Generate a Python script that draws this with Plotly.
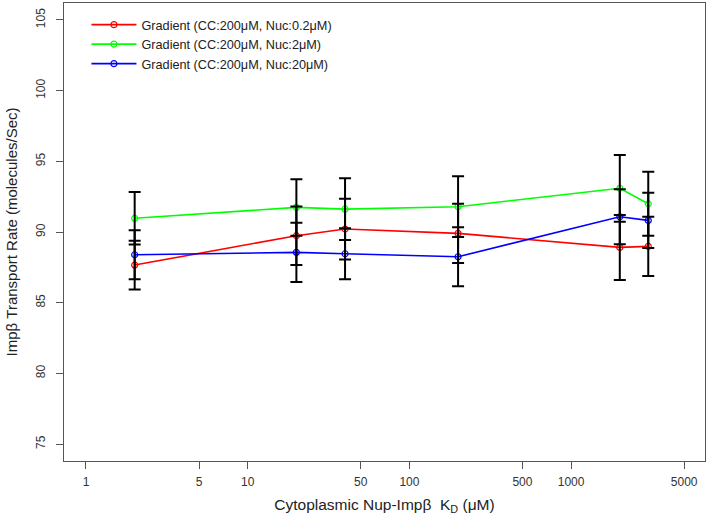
import plotly.graph_objects as go

kd = [2, 20, 40, 200, 2000, 3000]
red_vals = [87.66, 89.74, 90.21, 89.90, 88.91, 88.98]
red_err = [1.72, 2.07, 2.15, 2.10, 2.30, 2.10]
green_vals = [90.97, 91.74, 91.62, 91.79, 93.09, 92.00]
green_err = [1.86, 2.00, 2.18, 2.15, 2.36, 2.27]
blue_vals = [88.39, 88.56, 88.46, 88.25, 91.08, 90.82]
blue_err = [1.74, 2.09, 1.80, 2.08, 1.95, 1.95]

names = ["Gradient (CC:200μM, Nuc:0.2μM)",
         "Gradient (CC:200μM, Nuc:2μM)",
         "Gradient (CC:200μM, Nuc:20μM)"]
colors = ["#FF0000", "#00FF00", "#0000FF"]
x_tickvals = [1, 5, 10, 50, 100, 500, 1000, 5000]
x_ticktext = ["1", "5", "10", "50", "100", "500", "1000", "5000"]
y_tickvals = [75, 80, 85, 90, 95, 100, 105]

series = [(red_vals, red_err), (green_vals, green_err), (blue_vals, blue_err)]

fig = go.Figure()
for (vals, err), name, col in zip(series, names, colors):
    fig.add_trace(go.Scatter(
        x=kd, y=vals, mode="lines+markers", name=name,
        line=dict(color=col, width=1.6),
        marker=dict(symbol="circle-open", size=6, color=col, line=dict(width=1.2)),
    ))
for (vals, err), col in zip(series, colors):
    fig.add_trace(go.Scatter(
        x=kd, y=vals, mode="markers", showlegend=False, hoverinfo="skip",
        marker=dict(size=1, color="rgba(0,0,0,0)"),
        error_y=dict(type="data", array=err, visible=True,
                     color="#000000", thickness=2, width=6),
    ))

font_family = "Liberation Sans, Arial, Helvetica, sans-serif"
fig.update_layout(
    width=710, height=519,
    margin=dict(l=64, r=5, t=3, b=58, autoexpand=False),
    paper_bgcolor="white", plot_bgcolor="white",
    font=dict(family=font_family, color="#222222"),
    showlegend=True,
    legend=dict(x=0.035, y=0.985, xanchor="left", yanchor="top",
                bgcolor="rgba(0,0,0,0)", font=dict(size=12.7, color="#222222"),
                tracegroupgap=0, itemwidth=45),
    xaxis=dict(
        type="log", range=[-0.136, 3.828], automargin=False,
        tickvals=x_tickvals, ticktext=x_ticktext,
        showgrid=False, zeroline=False,
        showline=True, mirror=True, linecolor="#555555", linewidth=1,
        ticks="outside", ticklen=7, tickcolor="#555555", tickwidth=1,
        ticklabelstandoff=3,
        tickfont=dict(size=12, color="#333333"),
        title=dict(text="Cytoplasmic Nup-Impβ  K<sub>D</sub> (μM)",
                   font=dict(size=15.5, color="#222222"), standoff=10),
    ),
    yaxis=dict(
        range=[73.8, 106.2], automargin=False,
        tickvals=y_tickvals,
        showgrid=False, zeroline=False,
        showline=True, mirror=True, linecolor="#555555", linewidth=1,
        ticks="outside", ticklen=7, tickcolor="#555555", tickwidth=1,
        tickangle=-90, ticklabelstandoff=6,
        tickfont=dict(size=12, color="#333333"),
        title=dict(text="Impβ Transport Rate (molecules/Sec)",
                   font=dict(size=15, color="#222222"), standoff=12),
    ),
)

fig.write_html("out.html", config={"displayModeBar": False},
               post_script="document.body.style.margin='0';document.body.style.overflow='hidden';")
